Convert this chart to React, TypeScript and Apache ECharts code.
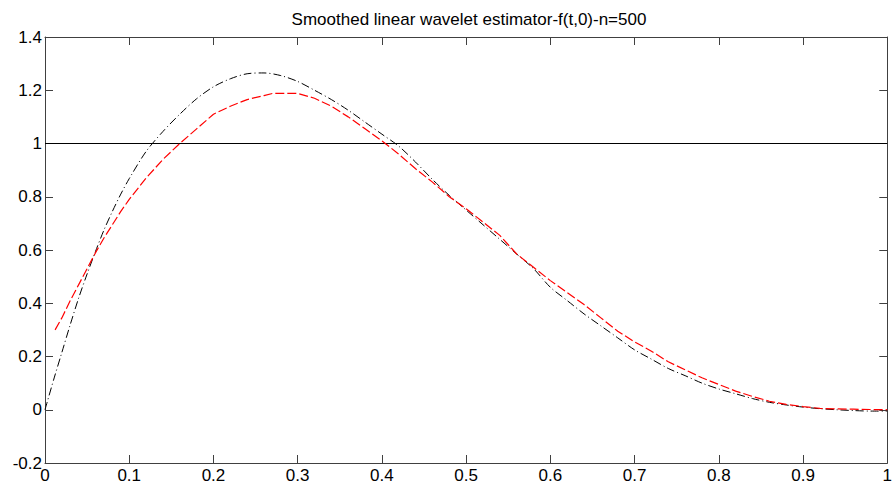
import React, { useEffect, useRef } from "react";
import * as echarts from "echarts";

const titleText = "Smoothed linear wavelet estimator-f(t,0)-n=500";

const trueT = [0, 0.01, 0.02, 0.03, 0.04, 0.05, 0.06, 0.07, 0.08, 0.09, 0.1, 0.12, 0.14, 0.16, 0.18, 0.2, 0.22, 0.24, 0.26, 0.28, 0.3, 0.32, 0.34, 0.36, 0.38, 0.4, 0.42, 0.44, 0.46, 0.48, 0.5, 0.52, 0.54, 0.56, 0.58, 0.6, 0.62, 0.64, 0.66, 0.68, 0.7, 0.72, 0.74, 0.76, 0.78, 0.8, 0.82, 0.84, 0.86, 0.88, 0.9, 0.92, 0.94, 0.96, 0.98, 1.0];
const trueV = [0, 0.11, 0.215, 0.32, 0.42, 0.51, 0.595, 0.675, 0.745, 0.81, 0.868, 0.97, 1.045, 1.11, 1.168, 1.213, 1.243, 1.262, 1.265, 1.255, 1.233, 1.2, 1.165, 1.125, 1.08, 1.035, 0.99, 0.93, 0.865, 0.805, 0.75, 0.695, 0.64, 0.585, 0.53, 0.46, 0.41, 0.36, 0.315, 0.27, 0.225, 0.19, 0.155, 0.128, 0.1, 0.078, 0.06, 0.042, 0.028, 0.018, 0.01, 0.004, 0.0, -0.003, -0.005, -0.005];

const estT = [0.012, 0.02, 0.03, 0.04, 0.05, 0.06, 0.07, 0.08, 0.09, 0.1, 0.12, 0.14, 0.16, 0.18, 0.2, 0.22, 0.24, 0.26, 0.27, 0.3, 0.32, 0.34, 0.36, 0.38, 0.4, 0.42, 0.44, 0.46, 0.48, 0.5, 0.52, 0.54, 0.56, 0.58, 0.6, 0.62, 0.64, 0.66, 0.68, 0.7, 0.72, 0.74, 0.76, 0.78, 0.8, 0.82, 0.84, 0.86, 0.88, 0.9, 0.92, 0.94, 0.96, 0.98, 1.0];
const estV = [0.3, 0.345, 0.41, 0.47, 0.53, 0.59, 0.645, 0.695, 0.745, 0.79, 0.87, 0.94, 1.0, 1.055, 1.11, 1.14, 1.165, 1.18, 1.188, 1.188, 1.17, 1.14, 1.1, 1.055, 1.01, 0.96, 0.905, 0.855, 0.8, 0.755, 0.705, 0.655, 0.585, 0.535, 0.485, 0.44, 0.395, 0.345, 0.295, 0.255, 0.22, 0.18, 0.15, 0.12, 0.095, 0.07, 0.05, 0.032, 0.02, 0.012, 0.005, 0.003, 0.002, 0.001, 0.0];

const refLineT = [0, 1];
const refLineV = [1, 1];

const xMin = 0, xMax = 1, xStep = 0.1;
const yMin = -0.2, yMax = 1.4, yStep = 0.2;

const fmt = (v: number) => String(+v.toFixed(1));

export default function App() {
  const ref = useRef<HTMLDivElement>(null);
  useEffect(() => {
    if (!ref.current) return;
    const chart = echarts.init(ref.current, null, { renderer: "svg" });
    const axisColor = "#404040";
    const font = "Arial, 'Liberation Sans', sans-serif";
    const baseX = {
      type: "value" as const,
      min: xMin,
      max: xMax,
      interval: xStep,
      axisLine: { show: true, onZero: false, lineStyle: { color: axisColor, width: 1 } },
      axisTick: { show: true, inside: true, length: 8, lineStyle: { color: axisColor } },
      splitLine: { show: false },
    };
    const baseY = {
      type: "value" as const,
      min: yMin,
      max: yMax,
      interval: yStep,
      axisLine: { show: true, onZero: false, lineStyle: { color: axisColor, width: 1 } },
      axisTick: { show: true, inside: true, length: 8, lineStyle: { color: axisColor } },
      splitLine: { show: false },
    };
    chart.setOption({
      animation: false,
      backgroundColor: "#ffffff",
      grid: { left: 45, right: 2, top: 37, bottom: 24, containLabel: false },
      graphic: [
        {
          type: "text",
          x: 469,
          y: 19,
          style: {
            text: titleText,
            fill: "#000",
            font: `17px ${font}`,
            textAlign: "center",
            textVerticalAlign: "middle",
          },
        },
      ],
      xAxis: [
        {
          ...baseX,
          position: "bottom",
          axisLabel: { show: true, formatter: fmt, color: "#000", fontSize: 17, fontFamily: font, margin: 4 },
        },
        {
          ...baseX,
          position: "top",
          axisLabel: { show: false },
        },
      ],
      yAxis: [
        {
          ...baseY,
          position: "left",
          axisLabel: { show: true, formatter: fmt, color: "#000", fontSize: 17, fontFamily: font, margin: 3 },
        },
        {
          ...baseY,
          position: "right",
          axisLabel: { show: false },
        },
      ],
      series: [
        {
          type: "line",
          data: refLineT.map((t, i) => [t, refLineV[i]]),
          showSymbol: false,
          lineStyle: { color: "#000", width: 1, type: "solid" },
          silent: true,
        },
        {
          type: "line",
          data: trueT.map((t, i) => [t, trueV[i]]),
          showSymbol: false,
          smooth: 0.3,
          lineStyle: { color: "#000", width: 1, type: [8, 3, 1, 3] },
          silent: true,
        },
        {
          type: "line",
          data: estT.map((t, i) => [t, estV[i]]),
          showSymbol: false,
          lineStyle: { color: "#ff0000", width: 1.2, type: [9, 3] },
          silent: true,
        },
      ],
    });
    return () => chart.dispose();
  }, []);
  return (
    <div
      ref={ref}
      style={{ position: "fixed", left: 0, top: 0, width: 895, height: 487, background: "#fff" }}
    />
  );
}
